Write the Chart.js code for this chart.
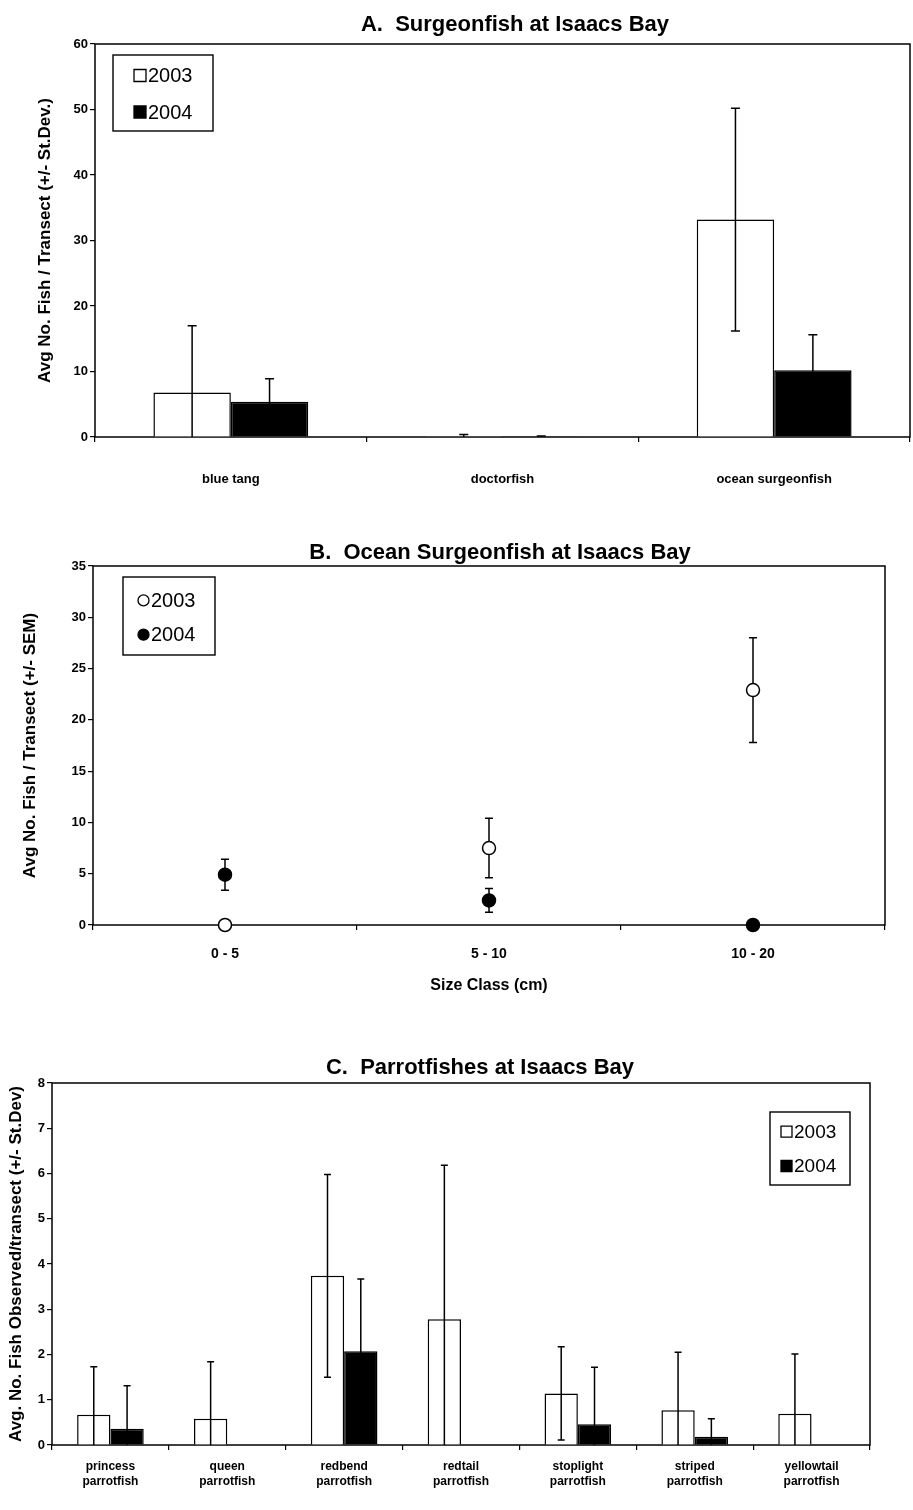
<!DOCTYPE html>
<html>
<head>
<meta charset="utf-8">
<title>Surgeonfish and parrotfishes at Isaacs Bay</title>
<script src="https://cdn.jsdelivr.net/npm/chart.js@4.4.1/dist/chart.umd.min.js"></script>
<style>
  html, body { margin: 0; padding: 0; background: #fff; }
  body { width: 913px; height: 1510px; position: relative; overflow: hidden; }
  canvas { position: absolute; left: 0; }
  #surgeonChart { top: 0; }
  #sizeChart { top: 530px; }
  #parrotChart { top: 1040px; }
</style>
</head>
<body>
<canvas id="surgeonChart" width="913" height="495"></canvas>
<canvas id="sizeChart" width="913" height="470"></canvas>
<canvas id="parrotChart" width="913" height="470"></canvas>
<script>
// A. Surgeonfish at Isaacs Bay (mean +/- st.dev.)
const surgeonSpecies = ['blue tang', 'doctorfish', 'ocean surgeonfish'];
const surgeon2003 = [6.8, 0.1, 33.2];
const surgeon2003Sd = [10.2, 0.3, 17.0];
const surgeon2004 = [5.4, 0.05, 10.2];
const surgeon2004Sd = [3.5, 0.1, 5.4];
const surgeonTicks = [0, 10, 20, 30, 40, 50, 60];

// B. Ocean surgeonfish by size class (mean +/- SEM)
const sizeClasses = ['0 - 5', '5 - 10', '10 - 20'];
const ocean2003 = [0, 7.5, 22.9];
const ocean2003Sem = [0, 2.9, 5.1];
const ocean2004 = [4.9, 2.4, 0];
const ocean2004Sem = [1.5, 1.15, 0];
const sizeTicks = [0, 5, 10, 15, 20, 25, 30, 35];

// C. Parrotfishes at Isaacs Bay (mean +/- st.dev.)
const parrotSpecies = [
  ['princess', 'parrotfish'], ['queen', 'parrotfish'], ['redbend', 'parrotfish'],
  ['redtail', 'parrotfish'], ['stoplight', 'parrotfish'], ['striped', 'parrotfish'],
  ['yellowtail', 'parrotfish']
];
const parrot2003 = [0.67, 0.58, 3.74, 2.78, 1.14, 0.77, 0.69];
const parrot2003Sd = [1.06, 1.26, 2.24, 3.4, 1.03, 1.28, 1.32];
const parrot2004 = [0.36, 0, 2.07, 0, 0.46, 0.18, 0];
const parrot2004Sd = [0.95, 0, 1.6, 0, 1.26, 0.4, 0];
const parrotTicks = [0, 1, 2, 3, 4, 5, 6, 7, 8];

const FONT = '"Liberation Sans", Arial, sans-serif';

// box around the plot area
const plotFrame = {
  id: 'plotFrame',
  beforeDatasetsDraw(chart) {
    const {ctx, chartArea: a} = chart;
    ctx.save();
    ctx.strokeStyle = '#000';
    ctx.lineWidth = 1.5;
    ctx.strokeRect(a.left, a.top, a.right - a.left, a.bottom - a.top);
    ctx.restore();
  }
};

function drawErrors(chart, o) {
  const {ctx, chartArea: a} = chart;
  const y = chart.scales.y;
  ctx.save();
  ctx.beginPath();
  ctx.rect(a.left, a.top - 2, a.right - a.left, a.bottom - a.top + 2);
  ctx.clip();
  ctx.strokeStyle = '#000';
  ctx.lineWidth = o.lineWidth;
  chart.data.datasets.forEach((ds, i) => {
    if (!ds.errors) return;
    chart.getDatasetMeta(i).data.forEach((el, j) => {
      const v = ds.data[j], e = ds.errors[j];
      if (!e) return;
      const top = y.getPixelForValue(v + e);
      const bot = y.getPixelForValue(v - e);
      const c = o.cap / 2;
      ctx.beginPath();
      ctx.moveTo(el.x, top);
      ctx.lineTo(el.x, bot);
      ctx.moveTo(el.x - c, top);
      ctx.lineTo(el.x + c, top);
      if (v - e > 0) {
        ctx.moveTo(el.x - c, bot);
        ctx.lineTo(el.x + c, bot);
      }
      ctx.stroke();
    });
  });
  ctx.restore();
}

const errorBars = {
  id: 'errorBars',
  beforeDatasetsDraw(chart, args, o) { if (o.behind) drawErrors(chart, o); },
  afterDatasetsDraw(chart, args, o) { if (!o.behind) drawErrors(chart, o); }
};

const boxLegend = {
  id: 'boxLegend',
  afterDraw(chart, args, o) {
    const {ctx, chartArea: a} = chart;
    const x = o.fromRight ? a.right - o.offsetX - o.width : a.left + o.offsetX;
    const y = a.top + o.offsetY;
    ctx.save();
    ctx.fillStyle = '#fff';
    ctx.fillRect(x, y, o.width, o.height);
    ctx.strokeStyle = '#000';
    ctx.lineWidth = 1.4;
    ctx.strokeRect(x, y, o.width, o.height);
    ctx.font = o.font;
    ctx.textBaseline = 'middle';
    ctx.textAlign = 'left';
    chart.data.datasets.forEach((ds, i) => {
      const cy = y + o.height * o.rows[i];
      const mx = x + o.markerX;
      const s = o.markerSize;
      ctx.fillStyle = ds.pointBackgroundColor || ds.backgroundColor;
      ctx.lineWidth = 1.3;
      ctx.beginPath();
      if (o.marker === 'circle') ctx.arc(mx + s / 2, cy, s / 2, 0, Math.PI * 2);
      else ctx.rect(mx, cy - s / 2, s, s);
      ctx.fill();
      ctx.stroke();
      ctx.fillStyle = '#000';
      ctx.fillText(ds.label, mx + s + 2, cy + 1);
    });
    ctx.restore();
  }
};

const panelTitle = {
  id: 'panelTitle',
  afterDraw(chart, args, o) {
    const {ctx} = chart;
    ctx.save();
    ctx.font = o.font;
    ctx.fillStyle = '#000';
    ctx.textAlign = 'center';
    ctx.textBaseline = 'middle';
    ctx.fillText(o.text, o.x, o.y);
    ctx.restore();
  }
};

function yAxis(ticks, title, width, titlePad, titleSize) {
  return {
    min: ticks[0],
    max: ticks[ticks.length - 1],
    ticks: { stepSize: ticks[1] - ticks[0], padding: 2, color: '#000', font: { family: FONT, size: 13, weight: 'bold' } },
    grid: { drawOnChartArea: false, tickLength: 5, color: '#000', lineWidth: 1.2 },
    border: { display: false },
    title: { display: true, text: title, color: '#000', padding: { top: titlePad, bottom: 0 },
             font: { family: FONT, size: titleSize, weight: 'bold' } },
    afterFit(scale) { scale.width = width; }
  };
}

function xAxis(height, pad, size) {
  return {
    offset: true,
    ticks: { padding: pad, color: '#000', maxRotation: 0, autoSkip: false,
             font: { family: FONT, size: size, weight: 'bold', lineHeight: 1.25 } },
    grid: { offset: true, drawOnChartArea: false, tickLength: 5, color: '#000', lineWidth: 1.2 },
    border: { display: false },
    afterFit(scale) { scale.height = height; }
  };
}

const common = { responsive: false, animation: false, events: [] };

new Chart(document.getElementById('surgeonChart'), {
  type: 'bar',
  data: {
    labels: surgeonSpecies,
    datasets: [
      { label: '2003', data: surgeon2003, errors: surgeon2003Sd, backgroundColor: '#fff', borderColor: '#000', borderWidth: 1.5 },
      { label: '2004', data: surgeon2004, errors: surgeon2004Sd, backgroundColor: '#000', borderColor: '#000', borderWidth: 1.5 }
    ]
  },
  options: {
    ...common,
    categoryPercentage: 0.57,
    barPercentage: 1.0,
    layout: { padding: { top: 44, right: 3, left: 0, bottom: 0 } },
    scales: {
      x: xAxis(58, 29, 13),
      y: yAxis(surgeonTicks, 'Avg No. Fish / Transect (+/- St.Dev.)', 95, 35, 17)
    },
    plugins: {
      legend: { display: false },
      tooltip: { enabled: false },
      errorBars: { behind: false, cap: 9, lineWidth: 1.5 },
      boxLegend: { fromRight: false, offsetX: 18, offsetY: 11, width: 100, height: 76, rows: [0.27, 0.75],
                   markerX: 21, markerSize: 12, marker: 'square', font: '20px ' + FONT },
      panelTitle: { text: 'A.  Surgeonfish at Isaacs Bay', x: 515, y: 25, font: 'bold 22px ' + FONT }
    }
  },
  plugins: [plotFrame, errorBars, boxLegend, panelTitle]
});

new Chart(document.getElementById('sizeChart'), {
  type: 'line',
  data: {
    labels: sizeClasses,
    datasets: [
      { label: '2003', data: ocean2003, errors: ocean2003Sem, showLine: false, clip: false,
        pointRadius: 6.5, pointBorderWidth: 1.5, pointBorderColor: '#000', pointBackgroundColor: '#fff',
        borderColor: '#000', backgroundColor: '#fff' },
      { label: '2004', data: ocean2004, errors: ocean2004Sem, showLine: false, clip: false,
        pointRadius: 6.5, pointBorderWidth: 1.5, pointBorderColor: '#000', pointBackgroundColor: '#000',
        borderColor: '#000', backgroundColor: '#000' }
    ]
  },
  options: {
    ...common,
    layout: { padding: { top: 36, right: 28, left: 0, bottom: 0 } },
    scales: {
      x: Object.assign(xAxis(75, 15, 14), {
        title: { display: true, text: 'Size Class (cm)', color: '#000', padding: { top: 0, bottom: 5 },
                 font: { family: FONT, size: 16, weight: 'bold' } }
      }),
      y: yAxis(sizeTicks, 'Avg No. Fish / Transect (+/- SEM)', 93, 20, 17)
    },
    plugins: {
      legend: { display: false },
      tooltip: { enabled: false },
      errorBars: { behind: true, cap: 8, lineWidth: 1.5 },
      boxLegend: { fromRight: false, offsetX: 30, offsetY: 11, width: 92, height: 78, rows: [0.3, 0.74],
                   markerX: 15, markerSize: 11, marker: 'circle', font: '20px ' + FONT },
      panelTitle: { text: 'B.  Ocean Surgeonfish at Isaacs Bay', x: 500, y: 23, font: 'bold 22px ' + FONT }
    }
  },
  plugins: [plotFrame, errorBars, boxLegend, panelTitle]
});

new Chart(document.getElementById('parrotChart'), {
  type: 'bar',
  data: {
    labels: parrotSpecies,
    datasets: [
      { label: '2003', data: parrot2003, errors: parrot2003Sd, backgroundColor: '#fff', borderColor: '#000', borderWidth: 1.5 },
      { label: '2004', data: parrot2004, errors: parrot2004Sd, backgroundColor: '#000', borderColor: '#000', borderWidth: 1.5 }
    ]
  },
  options: {
    ...common,
    categoryPercentage: 0.57,
    barPercentage: 1.0,
    layout: { padding: { top: 43, right: 43, left: 0, bottom: 0 } },
    scales: {
      x: xAxis(65, 9, 12),
      y: yAxis(parrotTicks, 'Avg. No. Fish Observed/transect (+/- St.Dev)', 52, 6, 17)
    },
    plugins: {
      legend: { display: false },
      tooltip: { enabled: false },
      errorBars: { behind: false, cap: 7, lineWidth: 1.5 },
      boxLegend: { fromRight: true, offsetX: 20, offsetY: 29, width: 80, height: 73, rows: [0.27, 0.74],
                   markerX: 11, markerSize: 11, marker: 'square', font: '19px ' + FONT },
      panelTitle: { text: 'C.  Parrotfishes at Isaacs Bay', x: 480, y: 28, font: 'bold 22px ' + FONT }
    }
  },
  plugins: [plotFrame, errorBars, boxLegend, panelTitle]
});
</script>
</body>
</html>
